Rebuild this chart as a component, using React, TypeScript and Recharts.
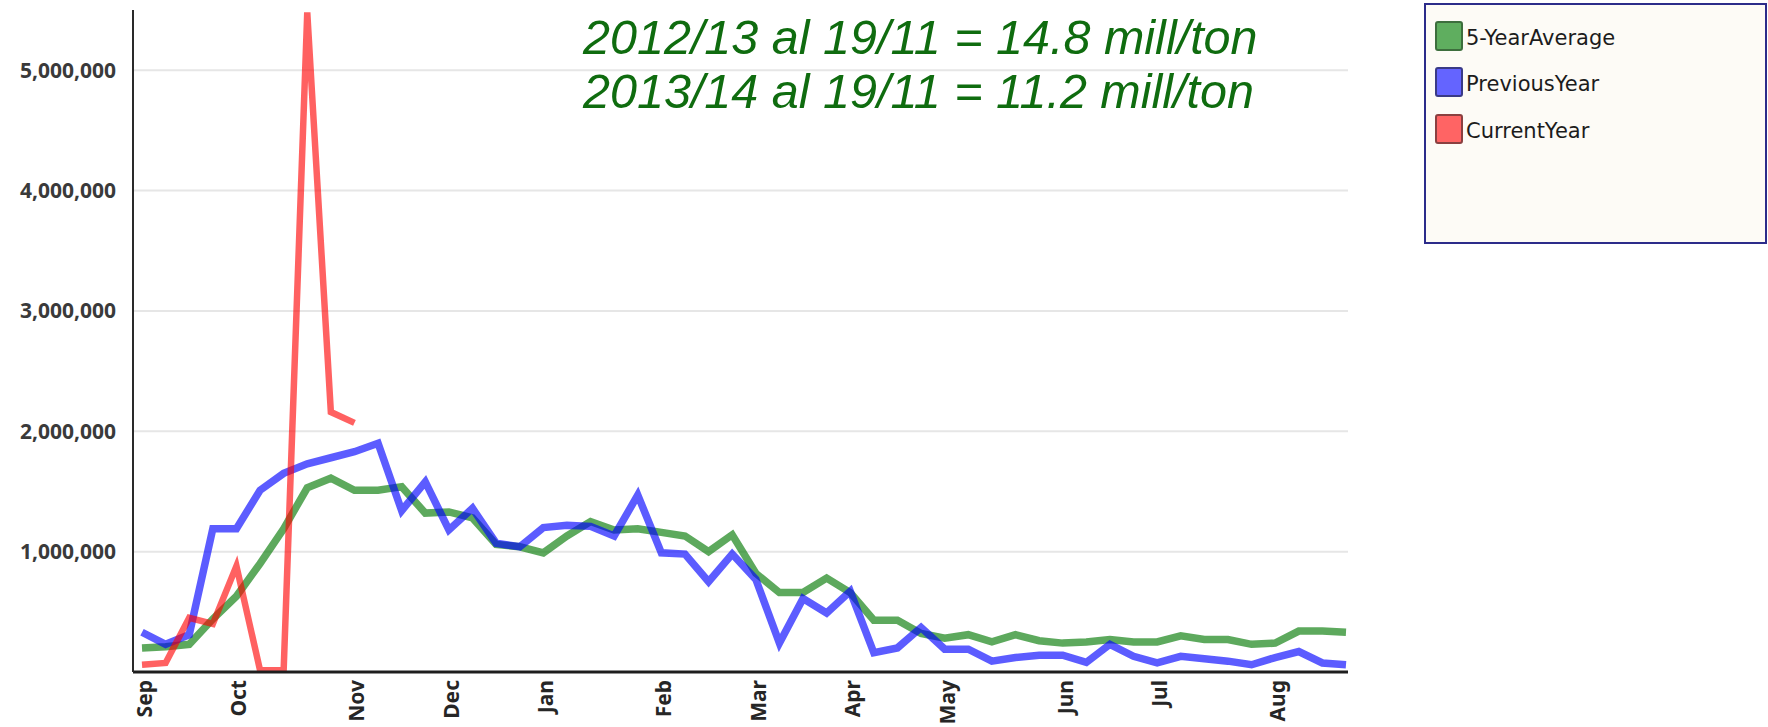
import React from 'react';
import { LineChart, Line, XAxis, YAxis, CartesianGrid, Legend } from 'recharts';

// ---- data ----
const monthTickWeeks = [0, 4, 9, 13, 17, 22, 26, 30, 34, 39, 43, 48];
const monthTickLabels = ['Sep', 'Oct', 'Nov', 'Dec', 'Jan', 'Feb', 'Mar', 'Apr', 'May', 'Jun', 'Jul', 'Aug'];
const yTicks = [1000000, 2000000, 3000000, 4000000, 5000000];
const yMax = 5500000;

const seriesNames = ['5-YearAverage', 'PreviousYear', 'CurrentYear'];

const fiveYearAverage = [
  200000, 210000, 230000, 440000, 630000, 900000, 1190000, 1530000, 1610000, 1510000,
  1510000, 1540000, 1320000, 1330000, 1280000, 1060000, 1040000, 990000, 1130000, 1250000,
  1180000, 1190000, 1160000, 1130000, 1000000, 1140000, 820000, 660000, 660000, 780000,
  660000, 430000, 430000, 320000, 280000, 310000, 250000, 310000, 260000, 240000,
  250000, 270000, 250000, 250000, 300000, 270000, 270000, 230000, 240000, 340000,
  340000, 330000,
];

const previousYear = [
  330000, 230000, 310000, 1190000, 1190000, 1510000, 1650000, 1730000, 1780000, 1830000,
  1900000, 1340000, 1580000, 1180000, 1360000, 1070000, 1040000, 1200000, 1220000, 1210000,
  1130000, 1470000, 990000, 980000, 750000, 980000, 770000, 240000, 610000, 490000,
  670000, 160000, 200000, 370000, 190000, 190000, 90000, 120000, 140000, 140000,
  80000, 230000, 130000, 75000, 130000, 110000, 90000, 60000, 120000, 170000,
  75000, 60000,
];

const currentYear: (number | null)[] = [
  60000, 75000, 450000, 400000, 880000, 15000, 15000, 5480000, 2160000, 2070000,
];

const titleLines = ['2012/13 al 19/11 = 14.8 mill/ton', '2013/14 al 19/11 = 11.2 mill/ton'];

const seriesStroke = ['#108010', '#0000ff', '#ff0000'];
const seriesOpacity = [0.68, 0.64, 0.62];
const seriesWidth = [7.5, 7.5, 6.5];
const swatchFill = ['#5fae5f', '#6464ff', '#ff6464'];
const swatchBorder = ['#3d6e3d', '#3a3a86', '#8a4040'];

const chartData = fiveYearAverage.map((v, i) => ({
  week: i,
  fiveYear: v,
  previous: previousYear[i],
  current: i < currentYear.length ? currentYear[i] : null,
}));
const dataKeys = ['fiveYear', 'previous', 'current'];

const MonthTick = (props: any) => {
  const { x, y, payload } = props;
  const idx = monthTickWeeks.indexOf(payload.value);
  const label = idx >= 0 ? monthTickLabels[idx] : '';
  const bx = x + 10;
  return (
    <text
      x={bx}
      y={y}
      transform={`rotate(-90 ${bx} ${y})`}
      textAnchor="end"
      fontFamily="'Noto Sans', sans-serif"
      fontWeight={700}
      fontSize={21}
      fill="#262626"
    >
      {label}
    </text>
  );
};

const LegendBox = () => (
  <div
    style={{
      boxSizing: 'border-box',
      width: 343,
      height: 241,
      border: '2px solid #2c2c8a',
      background: '#fdfbf6',
      paddingTop: 16,
      paddingLeft: 9,
    }}
  >
    {seriesNames.map((name, i) => (
      <div key={name} style={{ display: 'flex', alignItems: 'flex-start', height: 46.3 }}>
        <div
          style={{
            boxSizing: 'border-box',
            width: 28,
            height: 30,
            background: swatchFill[i],
            border: `2px solid ${swatchBorder[i]}`,
            borderRadius: 3,
          }}
        />
        <span
          style={{
            marginLeft: 3,
            fontFamily: "'DejaVu Sans', sans-serif",
            fontSize: 21,
            color: '#1c1c1c',
            lineHeight: '30px',
            position: 'relative',
            top: 2,
          }}
        >
          {name}
        </span>
      </div>
    ))}
  </div>
);

export default function App() {
  return (
    <div style={{ position: 'absolute', left: 0, top: 0, width: 1768, height: 727, background: '#ffffff' }}>
      <LineChart
        width={1768}
        height={727}
        data={chartData}
        margin={{ top: 10, right: 420, bottom: 0, left: 0 }}
      >
        <CartesianGrid
          vertical={false}
          horizontalValues={yTicks}
          stroke="#e6e6e6"
          strokeWidth={2}
        />
        <XAxis
          type="number"
          dataKey="week"
          domain={[0, 51]}
          ticks={monthTickWeeks}
          interval={0}
          padding={{ left: 9, right: 2 }}
          height={55}
          tickLine={false}
          tickSize={0}
          tickMargin={8}
          axisLine={{ stroke: '#1e1e1e', strokeWidth: 3 }}
          tick={<MonthTick />}
        />
        <YAxis
          type="number"
          domain={[0, yMax]}
          ticks={yTicks}
          allowDataOverflow
          width={133}
          tickLine={false}
          tickSize={0}
          tickMargin={17}
          axisLine={{ stroke: '#2a2a2a', strokeWidth: 2 }}
          tick={{ fontFamily: "'Noto Sans', sans-serif", fontWeight: 700, fontSize: 21, fill: '#3a3a3a' }}
          tickFormatter={(v: number) => v.toLocaleString('en-US')}
        />
        <Legend
          layout="vertical"
          align="center"
          verticalAlign="middle"
          wrapperStyle={{ left: 1424, top: 3, width: 343, height: 241 }}
          content={<LegendBox />}
        />
        {dataKeys.map((k, i) => (
          <Line
            key={k}
            type="linear"
            dataKey={k}
            name={seriesNames[i]}
            stroke={seriesStroke[i]}
            strokeOpacity={seriesOpacity[i]}
            strokeWidth={seriesWidth[i]}
            dot={false}
            activeDot={false}
            connectNulls={false}
            isAnimationActive={false}
          />
        ))}
      </LineChart>
      <div
        style={{
          position: 'absolute',
          left: 583,
          top: 10,
          fontFamily: "'Liberation Sans', Arial, sans-serif",
          fontStyle: 'italic',
          fontSize: 48.5,
          lineHeight: '54px',
          color: '#0f6c0f',
          whiteSpace: 'nowrap',
          pointerEvents: 'none',
        }}
      >
        {titleLines.map((t) => (
          <div key={t}>{t}</div>
        ))}
      </div>
    </div>
  );
}
